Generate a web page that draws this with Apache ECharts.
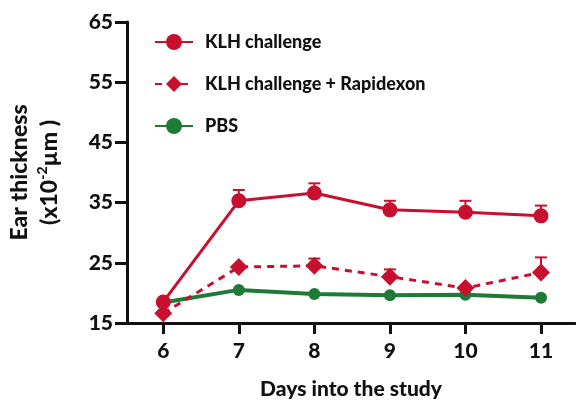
<!DOCTYPE html>
<html><head><meta charset="utf-8">
<script src="https://cdn.jsdelivr.net/npm/echarts@6/dist/echarts.min.js"></script>
<style>html,body{margin:0;padding:0;background:#fff}#c{width:576px;height:402px}</style>
</head><body><div id="c"></div>
<script>
const days = [6, 7, 8, 9, 10, 11];
const klh = [18.5, 35.3, 36.6, 33.8, 33.4, 32.8];
const klhErr = [0, 1.8, 1.6, 1.5, 1.9, 1.7];
const rapid = [16.6, 24.3, 24.5, 22.7, 20.8, 23.4];
const rapidErr = [0, 0.3, 1.2, 1.2, 0.3, 2.5];
const pbs = [18.4, 20.5, 19.8, 19.6, 19.7, 19.2];
const yTicks = [15, 25, 35, 45, 55, 65];

const RED = '#C8102E', GREEN = '#1E7A37';
const FONT = 'Lato';
const FW = 900;
const pts = arr => days.map((d, i) => [d, arr[i]]);
const errData = (m, e) => days.map((d, i) => [d, m[i], m[i] + e[i]]);

function errSeries(m, e, color) {
  return {
    type: 'custom', silent: true, z: 1,
    data: errData(m, e),
    renderItem: (params, api) => {
      const p0 = api.coord([api.value(0), api.value(1)]);
      const p1 = api.coord([api.value(0), api.value(2)]);
      if (Math.abs(p1[1] - p0[1]) < 1) return null;
      return { type: 'group', children: [
        { type: 'line', shape: { x1: p0[0], y1: p0[1], x2: p1[0], y2: p1[1] }, style: { stroke: color, lineWidth: 2 } },
        { type: 'line', shape: { x1: p1[0] - 6, y1: p1[1], x2: p1[0] + 6, y2: p1[1] }, style: { stroke: color, lineWidth: 2 } }
      ]};
    }
  };
}

const chart = echarts.init(document.getElementById('c'));
chart.setOption({
  animation: false,
  grid: { left: 127, right: 1, top: 22, bottom: 79, containLabel: false, outerBoundsMode: 'none' },
  legend: {
    orient: 'vertical', left: 149, top: 28, itemGap: 24, itemWidth: 38, itemHeight: 20,
    textStyle: { fontFamily: FONT, fontWeight: FW, fontSize: 18, color: '#111', padding: [0, 0, 0, 7] },
    data: ['KLH challenge', 'KLH challenge + Rapidexon', 'PBS']
  },
  xAxis: {
    type: 'value', min: 5.52, max: 11.45,
    name: 'Days into the study', nameLocation: 'middle', nameGap: 56,
    nameTextStyle: { fontFamily: FONT, fontWeight: FW, fontSize: 21, color: '#111' },
    axisLine: { onZero: false, lineStyle: { color: '#111', width: 3 } },
    axisTick: { customValues: days, length: 11, lineStyle: { color: '#111', width: 3 } },
    axisLabel: { customValues: days, margin: 18, fontFamily: FONT, fontWeight: FW, fontSize: 21, color: '#111' },
    splitLine: { show: false }
  },
  yAxis: {
    type: 'value', min: 15, max: 65, interval: 10,
    name: '{a|Ear thickness}\n{a|(x10}{s|-2}{a|µm )}', nameLocation: 'middle', nameGap: 62,
    nameTextStyle: { fontFamily: FONT, fontWeight: FW, fontSize: 23, color: '#111', lineHeight: 30,
      rich: { a: { fontFamily: FONT, fontWeight: FW, fontSize: 23, color: '#111', lineHeight: 30 },
              s: { fontFamily: FONT, fontWeight: FW, fontSize: 14, color: '#111', verticalAlign: 'top', lineHeight: 30 } } },
    axisLine: { show: true, lineStyle: { color: '#111', width: 3 } },
    axisTick: { show: true, length: 12, lineStyle: { color: '#111', width: 3 } },
    axisLabel: { margin: 14, fontFamily: FONT, fontWeight: FW, fontSize: 21, color: '#111' },
    splitLine: { show: false }
  },
  series: [
    errSeries(klh, klhErr, RED),
    errSeries(rapid, rapidErr, RED),
    { name: 'KLH challenge', type: 'line', data: pts(klh), symbol: 'circle', symbolSize: 15,
      lineStyle: { color: RED, width: 3 }, itemStyle: { color: RED }, z: 3 },
    { name: 'KLH challenge + Rapidexon', type: 'line', data: pts(rapid), symbol: 'diamond', symbolSize: 18,
      lineStyle: { color: RED, width: 3, type: [7, 6] }, itemStyle: { color: RED }, z: 3 },
    { name: 'PBS', type: 'line', data: pts(pbs), symbol: 'circle', symbolSize: 12,
      lineStyle: { color: GREEN, width: 4 }, itemStyle: { color: GREEN }, z: 2 }
  ]
});
</script></body></html>
